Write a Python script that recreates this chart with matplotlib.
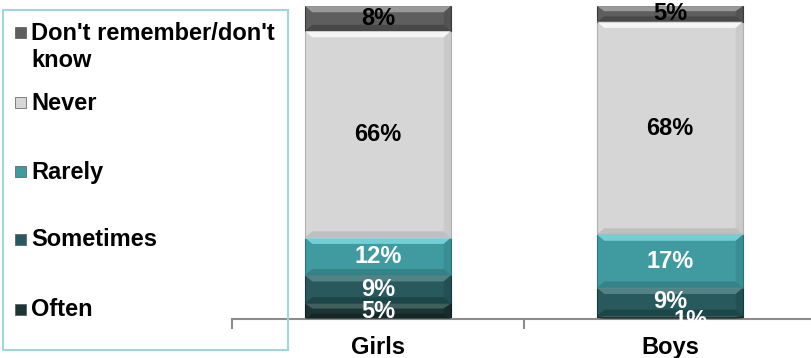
import matplotlib
matplotlib.use("Agg")
import matplotlib.pyplot as plt
from matplotlib.patches import Rectangle, Polygon
import numpy as np

plt.rcParams['font.family'] = ['Liberation Sans', 'DejaVu Sans']

categories = ["Girls", "Boys"]
series_names = ["Often", "Sometimes", "Rarely", "Never", "Don't remember/don't know"]
often = [5, 1]
sometimes = [9, 9]
rarely = [12, 17]
never = [66, 68]
dont_know = [8, 5]
series_values = [often, sometimes, rarely, never, dont_know]
colors = ["#1c3434", "#285a5d", "#409ba1", "#d6d6d6", "#5e5e5e"]
light = ["#4a6a6a", "#5f8d90", "#7fdde4", "#ffffff", "#a8a8a8"]
dark = ["#0f1e1e", "#173a3c", "#2b7378", "#b0b0b0", "#3a3a3a"]
label_colors = ["white", "white", "white", "black", "black"]
legend_labels = ["Don't remember/don't\nknow", "Never", "Rarely", "Sometimes", "Often"]

FS = 17

fig = plt.figure(figsize=(8.11, 3.58), dpi=100)
ax = fig.add_axes([232 / 811, 39 / 358, 584 / 811, 313 / 358])
ax.set_xlim(-0.5, 1.5)
ax.set_ylim(0, 100)

x = np.arange(len(categories))
width = 0.5
bottoms = np.zeros(len(categories))
for i, vals in enumerate(series_values):
    vals = np.array(vals, dtype=float)
    ax.bar(x, vals, width, bottom=bottoms, color=colors[i],
           edgecolor=dark[i], linewidth=0.8, zorder=2)
    # bevel effect
    for xi, b, v in zip(x, bottoms, vals):
        bw = 0.025
        bh = min(2.0, v / 3)
        l, r = xi - width / 2, xi + width / 2
        t = b + v
        ax.add_patch(Polygon([[l, t], [r, t], [r - bw, t - bh], [l + bw, t - bh]],
                             closed=True, facecolor=light[i], edgecolor='none', zorder=3, alpha=0.8))
        ax.add_patch(Polygon([[l, b], [r, b], [r - bw, b + bh], [l + bw, b + bh]],
                             closed=True, facecolor=dark[i], edgecolor='none', zorder=3, alpha=0.6))
        ax.add_patch(Polygon([[r, b], [r - bw, b + bh], [r - bw, t - bh], [r, t]],
                             closed=True, facecolor=dark[i], edgecolor='none', zorder=3, alpha=0.3))
    for xi, b, v in zip(x, bottoms, vals):
        dx = 0
        dy = 0
        if v < 3:
            dx = 0.07
            dy = -1.0
        ax.text(xi + dx, b + v / 2 + dy, f"{int(v)}%", ha='center', va='center',
                fontsize=FS, fontweight='bold', color=label_colors[i], zorder=5)
    bottoms += vals

for s in ['top', 'right', 'left']:
    ax.spines[s].set_visible(False)
ax.spines['bottom'].set_color('#8c8c8c')
ax.spines['bottom'].set_linewidth(1.5)
ax.set_yticks([])
ax.set_xticks(x)
ax.set_xticklabels(categories, fontsize=FS, fontweight='bold')
ax.tick_params(axis='x', which='major', length=0, pad=12)
ax.set_xticks([-0.5, 0.5, 1.5], minor=True)
ax.tick_params(axis='x', which='minor', length=7, width=1.5, color='#8c8c8c')

# legend box
fig.patches.append(Rectangle((3 / 811, 1 - 350 / 358), 285 / 811, 340 / 358,
                             transform=fig.transFigure, facecolor='none',
                             edgecolor='#9fd6da', linewidth=1.5, zorder=10))
legend_colors = colors[::-1]
legend_y = [33, 103, 172, 240, 310]
for lab, c, yy in zip(legend_labels, legend_colors, legend_y):
    fig.patches.append(Rectangle((15 / 811, 1 - (yy + 5) / 358), 11 / 811, 11 / 358,
                                 transform=fig.transFigure, facecolor=c,
                                 edgecolor='#555555', linewidth=0.5))
    if '\n' in lab:
        fig.text(31 / 811, 1 - 22 / 358, lab, fontsize=FS, fontweight='bold',
                 va='top', ha='left', linespacing=1.2)
    else:
        fig.text(31 / 811, 1 - yy / 358, lab, fontsize=FS, fontweight='bold',
                 va='center', ha='left')

fig.savefig("out.png", dpi=100)
